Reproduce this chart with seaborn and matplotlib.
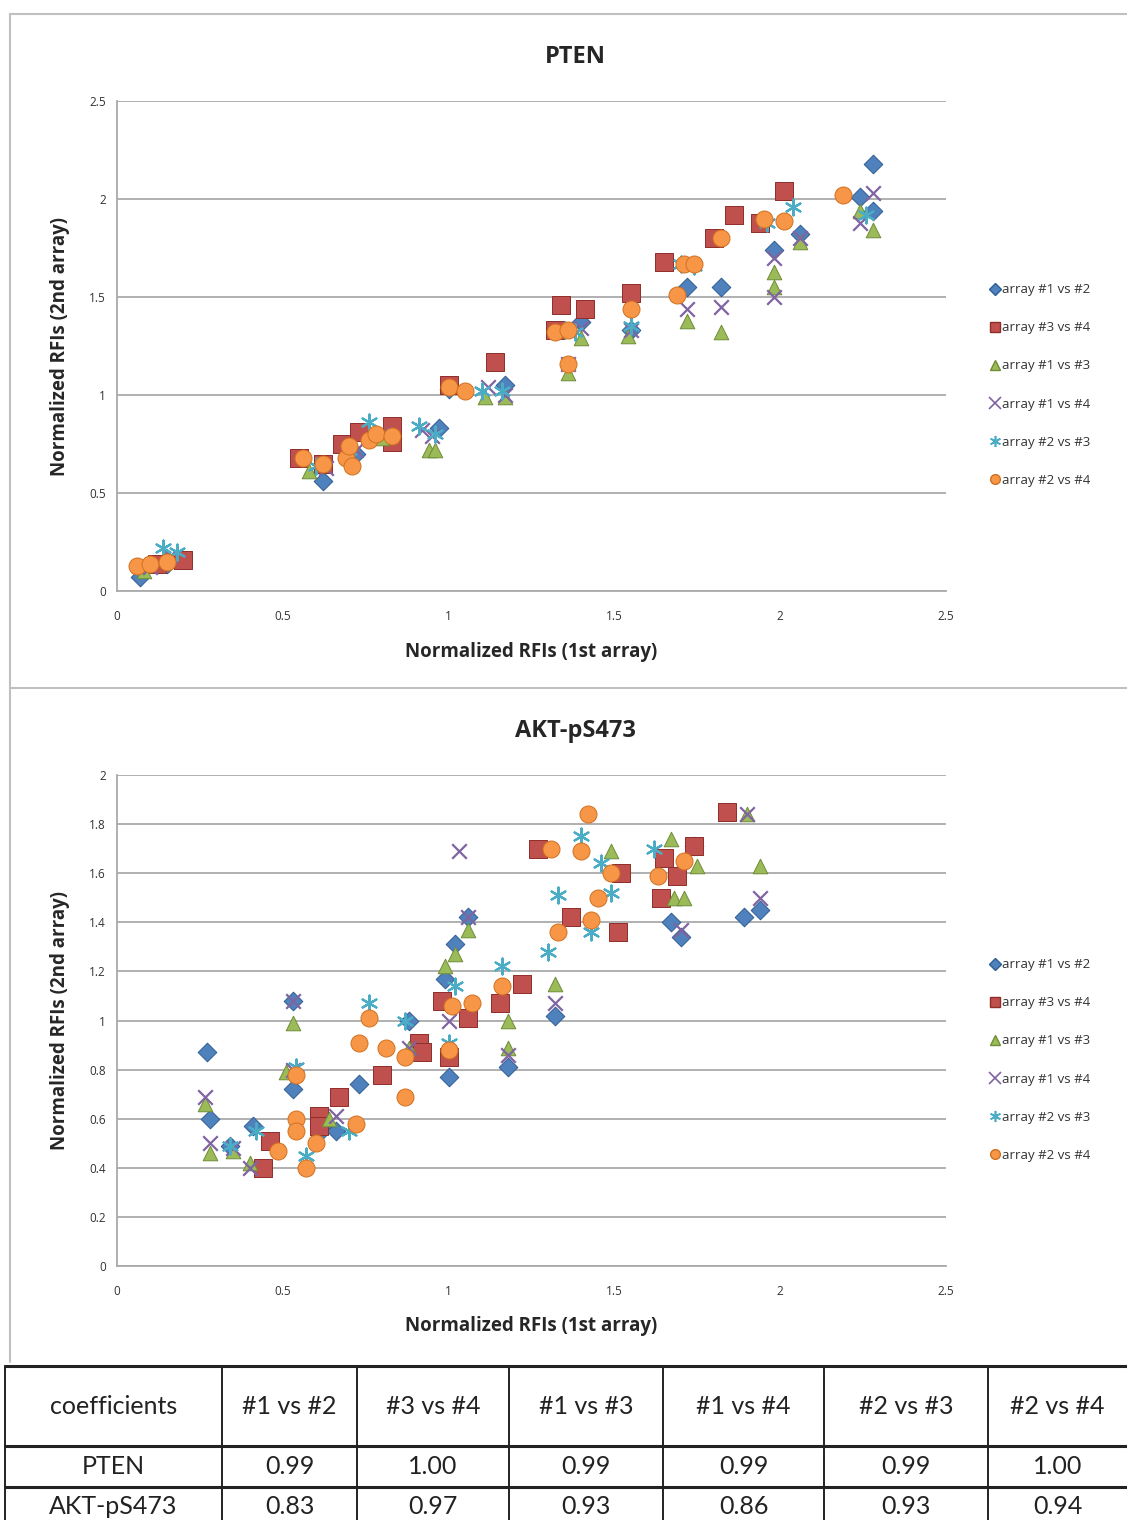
import numpy as np
import pandas as pd
import matplotlib
matplotlib.use("Agg")
import matplotlib.pyplot as plt
import seaborn as sns
from matplotlib.lines import Line2D

# ---------------- data ----------------
series_names = ["array #1 vs #2", "array #3 vs #4", "array #1 vs #3",
                "array #1 vs #4", "array #2 vs #3", "array #2 vs #4"]

# PTEN
pten_12_x = [0.07, 0.15, 0.62, 0.72, 0.83, 0.97, 1.00, 1.17, 1.40, 1.55, 1.72, 1.82, 1.98, 2.06, 2.24, 2.28, 2.28]
pten_12_y = [0.07, 0.14, 0.56, 0.70, 0.78, 0.83, 1.03, 1.05, 1.37, 1.33, 1.55, 1.55, 1.74, 1.82, 2.01, 2.18, 1.94]
pten_34_x = [0.12, 0.20, 0.55, 0.62, 0.68, 0.73, 0.83, 0.83, 1.00, 1.14, 1.32, 1.34, 1.41, 1.55, 1.65, 1.80, 1.86, 1.94, 2.01]
pten_34_y = [0.14, 0.16, 0.68, 0.65, 0.75, 0.81, 0.84, 0.76, 1.05, 1.17, 1.33, 1.46, 1.44, 1.52, 1.68, 1.80, 1.92, 1.88, 2.04]
pten_13_x = [0.08, 0.15, 0.58, 0.70, 0.80, 0.94, 0.96, 1.11, 1.17, 1.36, 1.40, 1.54, 1.72, 1.82, 1.98, 1.98, 2.06, 2.24, 2.28]
pten_13_y = [0.10, 0.18, 0.61, 0.70, 0.78, 0.72, 0.72, 0.99, 0.99, 1.11, 1.29, 1.30, 1.38, 1.32, 1.63, 1.55, 1.78, 1.94, 1.84]
pten_14_x = [0.10, 0.16, 0.63, 0.72, 0.80, 0.92, 0.95, 1.12, 1.17, 1.36, 1.40, 1.55, 1.72, 1.82, 1.98, 1.98, 2.06, 2.24, 2.28]
pten_14_y = [0.12, 0.18, 0.63, 0.72, 0.80, 0.82, 0.79, 1.04, 1.00, 1.16, 1.34, 1.33, 1.44, 1.45, 1.70, 1.50, 1.80, 1.88, 2.03]
pten_23_x = [0.14, 0.18, 0.60, 0.70, 0.76, 0.91, 0.96, 1.10, 1.16, 1.35, 1.38, 1.55, 1.70, 1.74, 1.96, 2.04, 2.26]
pten_23_y = [0.22, 0.20, 0.64, 0.72, 0.86, 0.84, 0.80, 1.02, 1.02, 1.33, 1.32, 1.35, 1.67, 1.66, 1.88, 1.96, 1.92]
pten_24_x = [0.06, 0.10, 0.15, 0.56, 0.62, 0.69, 0.71, 0.70, 0.76, 0.78, 0.83, 1.00, 1.05, 1.32, 1.36, 1.36, 1.55, 1.69, 1.71, 1.74, 1.82, 1.95, 2.01, 2.19]
pten_24_y = [0.13, 0.14, 0.15, 0.68, 0.65, 0.68, 0.64, 0.74, 0.77, 0.80, 0.79, 1.04, 1.02, 1.32, 1.33, 1.16, 1.44, 1.51, 1.67, 1.67, 1.80, 1.90, 1.89, 2.02]

# AKT-pS473
akt_12_x = [0.27, 0.28, 0.34, 0.41, 0.53, 0.53, 0.62, 0.66, 0.73, 0.88, 1.00, 0.99, 1.02, 1.06, 1.18, 1.32, 1.67, 1.70, 1.74, 1.89, 1.94]
akt_12_y = [0.87, 0.60, 0.49, 0.57, 1.08, 0.72, 0.56, 0.55, 0.74, 1.00, 0.77, 1.17, 1.31, 1.42, 0.81, 1.02, 1.40, 1.34, 1.71, 1.42, 1.45]
akt_34_x = [0.44, 0.46, 0.61, 0.61, 0.67, 0.80, 0.91, 0.92, 1.00, 0.98, 1.06, 1.155, 1.22, 1.27, 1.37, 1.51, 1.52, 1.64, 1.65, 1.69, 1.74, 1.84]
akt_34_y = [0.40, 0.51, 0.61, 0.57, 0.69, 0.78, 0.91, 0.87, 0.85, 1.08, 1.01, 1.07, 1.15, 1.70, 1.42, 1.36, 1.60, 1.50, 1.66, 1.59, 1.71, 1.85]
akt_13_x = [0.265, 0.28, 0.35, 0.40, 0.51, 0.53, 0.64, 0.88, 0.99, 1.02, 1.06, 1.18, 1.18, 1.32, 1.49, 1.67, 1.68, 1.71, 1.75, 1.90, 1.94]
akt_13_y = [0.66, 0.46, 0.47, 0.42, 0.79, 0.99, 0.60, 0.89, 1.22, 1.27, 1.37, 1.00, 0.89, 1.15, 1.69, 1.74, 1.50, 1.50, 1.63, 1.84, 1.63]
akt_14_x = [0.265, 0.28, 0.35, 0.40, 0.53, 0.53, 0.66, 0.88, 1.00, 1.03, 1.06, 1.18, 1.32, 1.70, 1.90, 1.94]
akt_14_y = [0.69, 0.50, 0.48, 0.40, 1.08, 0.80, 0.61, 0.89, 1.00, 1.69, 1.42, 0.86, 1.07, 1.37, 1.84, 1.50]
akt_23_x = [0.34, 0.42, 0.54, 0.57, 0.70, 0.76, 0.87, 1.00, 1.02, 1.16, 1.30, 1.33, 1.40, 1.43, 1.46, 1.49, 1.62]
akt_23_y = [0.49, 0.55, 0.81, 0.45, 0.55, 1.07, 1.00, 0.91, 1.14, 1.22, 1.28, 1.51, 1.75, 1.36, 1.64, 1.52, 1.70]
akt_24_x = [0.485, 0.54, 0.54, 0.54, 0.57, 0.60, 0.72, 0.73, 0.76, 0.81, 0.87, 0.87, 1.00, 1.01, 1.07, 1.16, 1.31, 1.33, 1.40, 1.42, 1.43, 1.45, 1.49, 1.63, 1.71]
akt_24_y = [0.47, 0.78, 0.60, 0.55, 0.40, 0.50, 0.58, 0.91, 1.01, 0.89, 0.69, 0.85, 0.88, 1.06, 1.07, 1.14, 1.70, 1.36, 1.69, 1.84, 1.41, 1.50, 1.60, 1.59, 1.65]

# table
table_header = ["coefficients", "#1 vs #2", "#3 vs #4", "#1 vs #3", "#1 vs #4", "#2 vs #3", "#2 vs #4"]
table_row_labels = ["PTEN", "AKT-pS473"]
pten_coeffs = ["0.99", "1.00", "0.99", "0.99", "0.99", "1.00"]
akt_coeffs = ["0.83", "0.97", "0.93", "0.86", "0.93", "0.94"]

# ---------------- style ----------------
sns.set_style("white")
plt.rcParams["font.family"] = ["Open Sans", "DejaVu Sans"]

W, H = 1127, 1520
fig = plt.figure(figsize=(W / 100, H / 100), dpi=100)

colors = ["#4F81BD", "#C0504D", "#9BBB59", "#8064A2", "#4BACC6", "#F79646"]
edges = ["#2E5C94", "#8E2E2B", "#6F8C36", "#8064A2", "#4BACC6", "#D07020"]
markers = ["D", "s", "^", "x", (6, 2, 0), "o"]
sizes = [90, 150, 110, 110, 130, 150]


def px_rect(left, top, right, bottom):
    return [left / W, 1 - bottom / H, (right - left) / W, (bottom - top) / H]


def make_df(xs, ys):
    frames = []
    for name, x, y in zip(series_names, xs, ys):
        frames.append(pd.DataFrame({"x": x, "y": y, "series": name}))
    return pd.concat(frames, ignore_index=True)


def draw_panel(rect, df, ymax, ystep, ylabels):
    ax = fig.add_axes(rect)
    for i, name in enumerate(series_names):
        sub = df[df["series"] == name]
        kw = dict(color=colors[i], marker=markers[i], s=sizes[i], zorder=3 + i * 0.01)
        if markers[i] in ("x",) or isinstance(markers[i], tuple):
            kw.update(linewidth=1.6)
        else:
            kw.update(edgecolor=edges[i], linewidth=0.7)
        sns.scatterplot(data=sub, x="x", y="y", ax=ax, legend=False, **kw)
    ax.set_xlim(0, 2.5)
    ax.set_ylim(0, ymax)
    yt = np.arange(0, ymax + 1e-9, ystep)
    ax.set_yticks(yt)
    ax.set_yticklabels(ylabels)
    ax.set_xticks([0, 0.5, 1, 1.5, 2, 2.5])
    ax.set_xticklabels(["0", "0.5", "1", "1.5", "2", "2.5"])
    ax.yaxis.grid(True, color="#AAAAAA", linewidth=1.3)
    ax.xaxis.grid(False)
    ax.set_axisbelow(True)
    for side in ["top", "right"]:
        ax.spines[side].set_visible(False)
    for side in ["left", "bottom"]:
        ax.spines[side].set_color("#AAAAAA")
        ax.spines[side].set_linewidth(1.3)
    ax.tick_params(axis="both", length=0, labelsize=8.5, colors="#333333", pad=8)
    ax.tick_params(axis="x", pad=14)
    ax.set_xlabel("Normalized RFIs (1st array)", fontsize=13.5, fontweight="bold", labelpad=13)
    ax.set_ylabel("Normalized RFIs (2nd array)", fontsize=13.5, fontweight="bold", labelpad=14)
    return ax


pten_df = make_df([pten_12_x, pten_34_x, pten_13_x, pten_14_x, pten_23_x, pten_24_x],
                  [pten_12_y, pten_34_y, pten_13_y, pten_14_y, pten_23_y, pten_24_y])
akt_df = make_df([akt_12_x, akt_34_x, akt_13_x, akt_14_x, akt_23_x, akt_24_x],
                 [akt_12_y, akt_34_y, akt_13_y, akt_14_y, akt_23_y, akt_24_y])

ax1 = draw_panel(px_rect(117, 101, 946, 591), pten_df, 2.5, 0.5, ["0", "0.5", "1", "1.5", "2", "2.5"])
ax2 = draw_panel(px_rect(117, 775, 946, 1266), akt_df, 2.0, 0.2,
                 ["0", "0.2", "0.4", "0.6", "0.8", "1", "1.2", "1.4", "1.6", "1.8", "2"])

fig.text(575 / W, 1 - 57 / H, "PTEN", ha="center", va="center", fontsize=17, fontweight="bold")
fig.text(575 / W, 1 - 731 / H, "AKT-pS473", ha="center", va="center", fontsize=17, fontweight="bold")

# legends
handles = []
for i, name in enumerate(series_names):
    if markers[i] == "x" or isinstance(markers[i], tuple):
        h = Line2D([], [], linestyle="none", marker=markers[i], color=colors[i], markersize=8, markeredgewidth=1.2)
    else:
        h = Line2D([], [], linestyle="none", marker=markers[i], color=colors[i],
                   markeredgecolor=edges[i], markersize=7 if markers[i] != "D" else 6)
    handles.append(h)

for ycen in (385, 1060):
    fig.legend(handles, series_names, loc="center left",
               bbox_to_anchor=(988 / W, 1 - ycen / H), frameon=False,
               fontsize=9.5, labelspacing=1.9, handletextpad=0.05, handlelength=1.0,
               borderaxespad=0, borderpad=0, labelcolor="#333333")

# overlay for frames and table
ov = fig.add_axes([0, 0, 1, 1], zorder=-1)
ov.set_xlim(0, W)
ov.set_ylim(H, 0)
ov.axis("off")
frame_c = "#C0C0C0"
ov.plot([10, W], [14, 14], color=frame_c, lw=1.5)
ov.plot([10, 10], [14, 1362], color=frame_c, lw=1.5)
ov.plot([10, W], [688, 688], color=frame_c, lw=1.5)

ov2 = fig.add_axes([0, 0, 1, 1], zorder=5)
ov2.set_xlim(0, W)
ov2.set_ylim(H, 0)
ov2.axis("off")
col_edges = [5, 222, 357, 509, 663, 824, 988, W + 5]
row_edges = [1366, 1446, 1487, H + 5]
for y in row_edges[:-1]:
    ov2.plot([5, W], [y, y], color="#222222", lw=2.2)
for x in col_edges[:-1]:
    ov2.plot([x, x], [1366, H], color="#222222", lw=1.4)
row_centers = [(row_edges[i] + row_edges[i + 1]) / 2 for i in range(3)]
row_centers[2] = 1506
table_rows = [table_header,
              [table_row_labels[0]] + pten_coeffs,
              [table_row_labels[1]] + akt_coeffs]
for r, row in enumerate(table_rows):
    for c, txt in enumerate(row):
        xc = (col_edges[c] + min(col_edges[c + 1], W)) / 2
        ov2.text(xc, row_centers[r], txt, ha="center", va="center", fontsize=18,
                 color="#222222", family=["Lato", "DejaVu Sans"])

fig.savefig("out.png", dpi=100)
